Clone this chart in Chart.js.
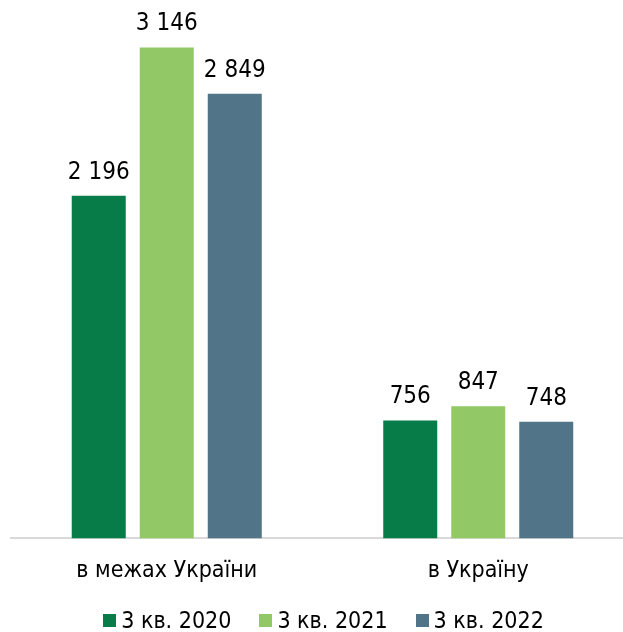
<!DOCTYPE html>
<html>
<head>
<meta charset="utf-8">
<script src="https://cdn.jsdelivr.net/npm/chart.js@4/dist/chart.umd.min.js"></script>
<style>
  html, body { margin: 0; padding: 0; background: #fff; overflow: hidden; }
  #wrap { position: relative; width: 645px; height: 632px; }
  #legend {
    position: absolute; left: 0; top: 605px; width: 647px;
    display: flex; justify-content: center; gap: 28px;
    font: 23px Tahoma, 'DejaVu Sans Condensed', 'DejaVu Sans', sans-serif;
    line-height: 30px; color: #000;
  }
  #legend span.item { display: flex; align-items: center; }
  #legend i { display: inline-block; width: 13px; height: 13px; margin-right: 5px; }
</style>
</head>
<body>
<div id="wrap">
  <canvas id="chart"></canvas>
  <div id="legend"></div>
</div>
<script>
/* Bar chart: 3 кв. 2020 / 2021 / 2022 */
const categories = ['в межах України', 'в Україну'];
const seriesNames = ['3 кв. 2020', '3 кв. 2021', '3 кв. 2022'];
const values2020 = [2196, 756];
const values2021 = [3146, 847];
const values2022 = [2849, 748];
const colors = ['#077C48', '#92C966', '#517489'];

const FONT = "Tahoma, 'DejaVu Sans Condensed', 'DejaVu Sans', sans-serif";

function fmt(v) {
  return String(v).replace(/\B(?=(\d{3})+(?!\d))/g, ' ');
}

const valueLabels = {
  id: 'valueLabels',
  afterDatasetsDraw(chart) {
    const ctx = chart.ctx;
    ctx.save();
    ctx.font = '24px ' + FONT;
    ctx.fillStyle = '#000';
    ctx.textAlign = 'center';
    ctx.textBaseline = 'alphabetic';
    chart.data.datasets.forEach((ds, i) => {
      chart.getDatasetMeta(i).data.forEach((bar, j) => {
        ctx.fillText(fmt(ds.data[j]), bar.x, bar.y - 17);
      });
    });
    ctx.restore();
  }
};

new Chart(document.getElementById('chart'), {
  type: 'bar',
  data: {
    labels: categories,
    datasets: [values2020, values2021, values2022].map((d, i) => ({
      label: seriesNames[i],
      data: d,
      backgroundColor: colors[i],
      categoryPercentage: 0.655,
      barPercentage: 0.794
    }))
  },
  options: {
    responsive: true,
    maintainAspectRatio: false,
    animation: false,
    layout: { padding: { left: 11, right: 11, top: 0, bottom: 36 } },
    plugins: {
      legend: { display: false },
      tooltip: { enabled: false }
    },
    scales: {
      x: {
        grid: { display: false },
        border: { display: true, color: '#d9d9d9', width: 2 },
        ticks: { font: { family: FONT, size: 23 }, color: '#000', padding: 11 }
      },
      y: { display: false, min: 0, max: 3450 }
    }
  },
  plugins: [valueLabels]
});

// legend
const legend = document.getElementById('legend');
seriesNames.forEach((name, i) => {
  const item = document.createElement('span');
  item.className = 'item';
  item.innerHTML = '<i style="background:' + colors[i] + '"></i>' + name;
  legend.appendChild(item);
});
</script>
</body>
</html>
